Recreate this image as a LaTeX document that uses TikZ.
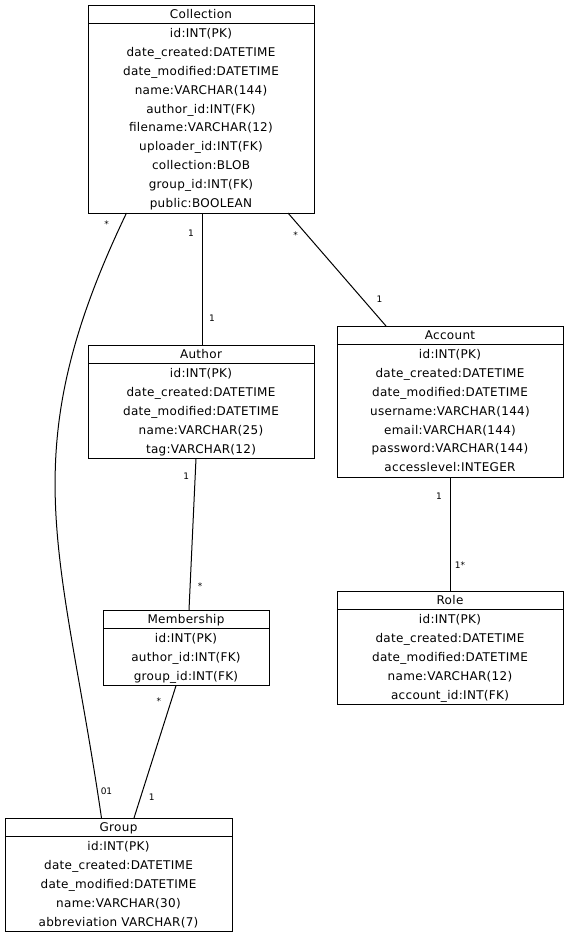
\documentclass[tikz,border=0pt]{standalone}
\usepackage{fontspec}
\setmainfont{DejaVu Sans}
\newfontfamily\tablefont[LetterSpace=2.5]{DejaVu Sans}
\usetikzlibrary{shapes.multipart}
\newcommand{\rs}{\rule[-5pt]{0pt}{18.9pt}}
\newcommand{\hs}{\rule[-4pt]{0pt}{17pt}}
\newcommand{\tablew}{226pt}

\begin{document}
\begin{tikzpicture}[x=1pt,y=-1pt,
        table/.style={draw, line width=1pt, rectangle split, rectangle split parts=2,
            text width=\tablew, align=center, inner xsep=0pt, inner ysep=0pt, outer sep=0pt,
            anchor=north, font=\tablefont\fontsize{12}{18.9}\selectfont},
        mult/.style={font=\fontsize{9}{10}\selectfont, inner sep=1pt},
        link/.style={line width=1pt}]
        %\draw[help lines] (0,0) grid[step=50] (568,938);
        \useasboundingbox (0,0) rectangle (568,938);

        % tables
        \node[table] (collection) at (201,5) {\hs Collection
            \nodepart{two}
            \rs id:INT(PK)\\
            \rs date\_created:DATETIME\\
            \rs date\_modified:DATETIME\\
            \rs name:VARCHAR(144)\\
            \rs author\_id:INT(FK)\\
            \rs filename:VARCHAR(12)\\
            \rs uploader\_id:INT(FK)\\
            \rs collection:BLOB\\
            \rs group\_id:INT(FK)\\
            \rs public:BOOLEAN};
        \node[table] (author) at (201,345) {\hs Author
            \nodepart{two}
            \rs id:INT(PK)\\
            \rs date\_created:DATETIME\\
            \rs date\_modified:DATETIME\\
            \rs name:VARCHAR(25)\\
            \rs tag:VARCHAR(12)};
        \node[table] (account) at (450,326) {\hs Account
            \nodepart{two}
            \rs id:INT(PK)\\
            \rs date\_created:DATETIME\\
            \rs date\_modified:DATETIME\\
            \rs username:VARCHAR(144)\\
            \rs email:VARCHAR(144)\\
            \rs password:VARCHAR(144)\\
            \rs accesslevel:INTEGER};
        \node[table] (role) at (450,591) {\hs Role
            \nodepart{two}
            \rs id:INT(PK)\\
            \rs date\_created:DATETIME\\
            \rs date\_modified:DATETIME\\
            \rs name:VARCHAR(12)\\
            \rs account\_id:INT(FK)};
        \node[table, text width=166pt] (membership) at (186,610) {\hs Membership
            \nodepart{two}
            \rs id:INT(PK)\\
            \rs author\_id:INT(FK)\\
            \rs group\_id:INT(FK)};
        \node[table, text width=227pt] (group) at (118.5,818) {\hs Group
            \nodepart{two}
            \rs id:INT(PK)\\
            \rs date\_created:DATETIME\\
            \rs date\_modified:DATETIME\\
            \rs name:VARCHAR(30)\\
            \rs abbreviation VARCHAR(7)};

        % relations
        \draw[link] ([xshift=1pt]collection.south)
            -- node[mult, pos=0.15, xshift=-11pt] (ca1) {1}
               node[mult, pos=0.8, xshift=10pt] (ca2) {1}
            ([xshift=1pt]author.north);
        \draw[link] ([xshift=87pt]collection.south)
            -- node[mult, pos=0.2, xshift=-12pt] (cc1) {*}
               node[mult, pos=0.76, xshift=17pt] (cc2) {1}
            ([xshift=-64pt]account.north);
        \draw[link] (account.south)
            -- node[mult, pos=0.17, xshift=-11pt] (ar1) {1}
               node[mult, pos=0.77, xshift=10pt] (ar2) {1*}
            (role.north);
        \draw[link] ([xshift=-5pt]author.south)
            -- node[mult, pos=0.12, xshift=-9pt] (am1) {1}
               node[mult, pos=0.84, xshift=10pt] (am2) {*}
            ([xshift=3pt]membership.north);
        \draw[link] ([xshift=-10pt]membership.south)
            -- node[mult, pos=0.12, xshift=-12pt] (mg1) {*}
               node[mult, pos=0.84, xshift=11pt] (mg2) {1}
            ([xshift=15.5pt]group.north);
        \draw[link] ([xshift=-74.5pt]collection.south)
            node[mult, xshift=-20pt, yshift=-11pt] (cg1) {*}
            .. controls (10,456) and (62,548) ..
            ([xshift=-17pt]group.north)
            node[mult, xshift=5pt, yshift=27pt] (cg2) {01};
\end{tikzpicture}
\end{document}
